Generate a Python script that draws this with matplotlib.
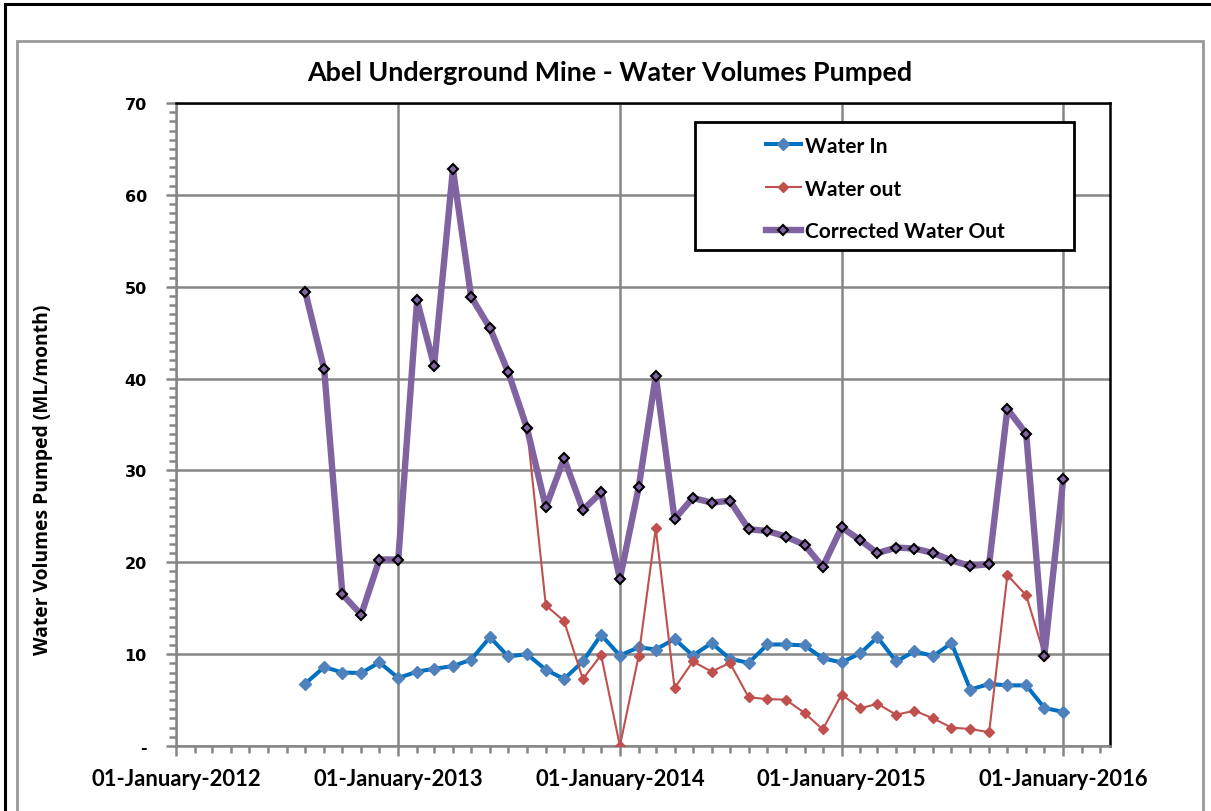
import numpy as np
import pandas as pd
import matplotlib
matplotlib.use('Agg')
from matplotlib import pyplot as plt
import matplotlib.dates as mdates
from matplotlib.patches import Rectangle
from matplotlib.ticker import FuncFormatter, MultipleLocator

months = pd.date_range('2012-08-01', periods=42, freq='MS')
months_out = pd.date_range('2013-08-01', periods=30, freq='MS')

water_in = [6.8, 8.6, 8.0, 7.95, 9.1, 7.4, 8.1, 8.4, 8.7, 9.4,
            11.85, 9.75, 10.0, 8.3, 7.3, 9.2, 12.1, 9.85, 10.75, 10.5,
            11.65, 9.85, 11.2, 9.5, 9.05, 11.05, 11.05, 10.95, 9.55, 9.1,
            10.1, 11.85, 9.2, 10.3, 9.8, 11.2, 6.15, 6.75, 6.6, 6.6,
            4.15, 3.7]
water_out = [34.6, 15.3, 13.6, 7.3, 9.9, 0.0, 9.85, 23.7, 6.3, 9.2,
             8.1, 9.05, 5.3, 5.1, 5.05, 3.6, 1.8, 5.6, 4.1, 4.6,
             3.4, 3.85, 3.0, 2.0, 1.85, 1.5, 18.6, 16.4, 9.85, 29.1]
corrected_out = [49.4, 41.0, 16.5, 14.3, 20.3, 20.3, 48.5, 41.4, 62.8, 48.9,
                 45.5, 40.7, 34.6, 26.0, 31.3, 25.7, 27.6, 18.2, 28.2, 40.3,
                 24.7, 27.0, 26.5, 26.7, 23.6, 23.4, 22.8, 21.9, 19.5, 23.8,
                 22.4, 21.0, 21.6, 21.5, 21.0, 20.2, 19.6, 19.8, 36.7, 34.0,
                 9.85, 29.1]

narrow = ['Lato', 'DejaVu Sans']
W, H = 1211, 812

fig = plt.figure(figsize=(W / 100, H / 100), dpi=100)
ax = fig.add_axes([176 / W, 1 - 747 / H, (1110 - 176) / W, (747 - 104) / H])

# outer frames
fig.patches.append(Rectangle((5 / W, -0.1), 1.2, 1.1 - 5 / H, transform=fig.transFigure,
                             fill=False, edgecolor='black', linewidth=2.2, zorder=0))
fig.patches.append(Rectangle((17 / W, -0.1), (1203 - 17) / W, 1.1 - 42 / H, transform=fig.transFigure,
                             fill=False, edgecolor='#999999', linewidth=2.0, zorder=0))

ax.plot(months, water_in, color='#0070C0', lw=2.9, marker='D', ms=6.5,
        mfc='#4F81BD', mec='#4F81BD', label='Water In', zorder=3)
ax.plot(months_out, water_out, color='#C0504D', lw=1.5, marker='D', ms=5.5,
        mfc='#C0504D', mec='#C0504D', label='Water out', zorder=4)
ax.plot(months, corrected_out, color='#8064A2', lw=4.6, marker='D', ms=5.5,
        mfc='#8064A2', mec='black', mew=1.5, label='Corrected Water Out', zorder=5)

ax.set_ylim(0, 70)
ax.set_xlim(pd.Timestamp('2012-01-01'), pd.Timestamp('2016-03-18'))
ax.yaxis.set_major_locator(MultipleLocator(10))
ax.yaxis.set_minor_locator(MultipleLocator(1))
ax.yaxis.set_major_formatter(FuncFormatter(lambda v, p: '-' if v == 0 else '%d' % v))
ax.xaxis.set_major_locator(mdates.YearLocator())
ax.xaxis.set_minor_locator(mdates.MonthLocator())
ax.xaxis.set_major_formatter(mdates.DateFormatter('%d-%B-%Y'))

ax.grid(True, which='major', color='#868686', lw=1.8, zorder=1)
ax.set_axisbelow(True)
for s in ['left', 'bottom']:
    ax.spines[s].set_color('#868686')
    ax.spines[s].set_linewidth(1.8)
for s in ['top', 'right']:
    ax.spines[s].set_color('black')
    ax.spines[s].set_linewidth(1.8)

ax.tick_params(which='both', direction='out', color='#868686', width=1.8)
ax.tick_params(which='major', length=7)
ax.tick_params(which='minor', length=5)
ax.tick_params(axis='x', pad=9)
ax.tick_params(axis='y', pad=14)
for t in ax.get_xticklabels():
    t.set_family(narrow)
    t.set_fontweight('bold')
    t.set_fontsize(15.8)
for t in ax.get_yticklabels():
    t.set_fontweight('bold')
    t.set_fontsize(11.5)

fig.text(610 / W, 1 - 73 / H, 'Abel Underground Mine - Water Volumes Pumped',
         family=narrow, fontweight='bold', fontsize=19.4, ha='center', va='center')
fig.text(43 / W, 1 - 480 / H, 'Water Volumes Pumped (ML/month)', family=['Open Sans', 'DejaVu Sans'],
         fontweight='bold', fontsize=13.9, rotation=90, ha='center', va='center')

box = Rectangle((695 / W, 1 - 251 / H), (1074 - 695) / W, (251 - 123) / H,
                transform=fig.transFigure, facecolor='white',
                edgecolor='black', linewidth=2.0, zorder=6, clip_on=False)
ax.add_patch(box)
leg = ax.legend(loc='upper left', bbox_to_anchor=(749 / W, 1 - 120 / H), bbox_transform=fig.transFigure,
                frameon=False, prop={'family': narrow, 'weight': 'bold', 'size': 15},
                handlelength=1.7, handletextpad=0.2, labelspacing=1.1, borderpad=0.3)
leg.set_zorder(7)

fig.savefig('out.png', dpi=100)
